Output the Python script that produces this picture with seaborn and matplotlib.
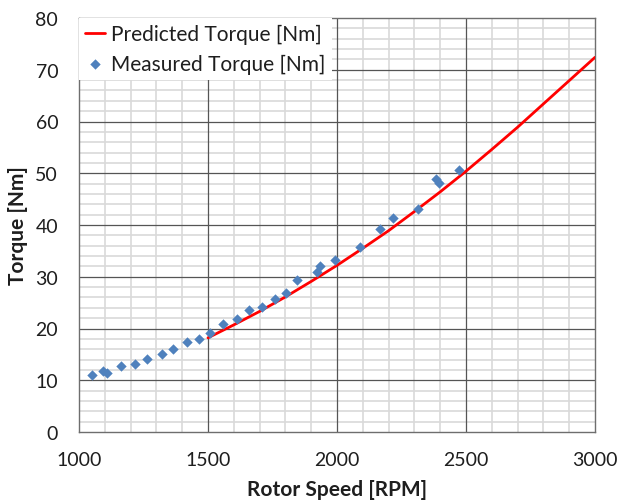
"""Torque vs rotor speed: predicted curve and measured points."""

import matplotlib
matplotlib.use("Agg")
import matplotlib.pyplot as plt
import pandas as pd
import seaborn as sns
from matplotlib.ticker import MultipleLocator

# Predicted torque
PRED_RPM = [1500, 1600, 1700, 1800, 1900, 2000, 2100, 2200, 2300, 2400,
            2500, 2600, 2700, 2800, 2900, 3000]
PRED_NM = [18.2, 20.7, 23.3, 26.1, 29.1, 32.2, 35.5, 38.9, 42.6, 46.4,
           50.4, 54.6, 58.9, 63.4, 67.9, 72.4]

# Measured torque points
MEAS_RPM = [1052, 1094, 1107, 1164, 1217, 1265, 1320, 1366, 1417, 1465,
            1508, 1560, 1614, 1659, 1709, 1758, 1802, 1845, 1924, 1934,
            1992, 2089, 2168, 2218, 2314, 2384, 2397, 2472]
MEAS_NM = [11.1, 11.8, 11.4, 12.8, 13.1, 14.1, 15.1, 16.0, 17.4, 18.0,
           19.1, 20.9, 21.8, 23.6, 24.1, 25.7, 26.9, 29.3, 31.0, 32.1,
           33.2, 35.8, 39.2, 41.4, 43.0, 48.8, 48.1, 50.7]

sns.set_style("white")
plt.rcParams["font.family"] = ["Lato", "DejaVu Sans"]
TXT = "#1e1e1e"
GRID_MAJ = "#555555"

pred = pd.DataFrame({"rpm": PRED_RPM, "nm": PRED_NM})
meas = pd.DataFrame({"rpm": MEAS_RPM, "nm": MEAS_NM})

fig = plt.figure(figsize=(6.19, 5.02), dpi=100)
ax = fig.add_axes([79 / 619, 1 - 433 / 502, 516 / 619, 414 / 502])

sns.lineplot(pred, x="rpm", y="nm", ax=ax, color="#ff0000", lw=2,
             label="Predicted Torque [Nm]", zorder=4)
sns.scatterplot(meas, x="rpm", y="nm", ax=ax, marker="D", s=28, color="#4f81bd",
                linewidth=0, label="Measured Torque [Nm]", zorder=5)

ax.set_xlim(1000, 3000)
ax.set_ylim(0, 80)
ax.xaxis.set_major_locator(MultipleLocator(500))
ax.xaxis.set_minor_locator(MultipleLocator(100))
ax.yaxis.set_major_locator(MultipleLocator(10))
ax.yaxis.set_minor_locator(MultipleLocator(2))
# light minor grid, dark major lines drawn on top of it
ax.grid(which="minor", color="#d9d9d9", lw=1.2, zorder=0)
for xv in ax.get_xticks():
    if 1000 < xv < 3000:
        ax.axvline(xv, color=GRID_MAJ, lw=0.9, zorder=1)
for yv in ax.get_yticks():
    if 0 < yv < 80:
        ax.axhline(yv, color=GRID_MAJ, lw=0.9, zorder=1)
ax.set_axisbelow(True)
for s in ax.spines.values():
    s.set_color("#6e6e6e")
    s.set_linewidth(1.0)

ax.tick_params(which="major", direction="out", length=4.5, width=0.8,
               color="#8c8c8c", labelsize=14, labelcolor=TXT)
ax.tick_params(axis="y", pad=10.5)
ax.tick_params(axis="x", pad=9)
ax.tick_params(which="minor", length=0)

ax.set_xlabel("Rotor Speed [RPM]", fontsize=15, fontweight="bold", color=TXT, labelpad=8)
ax.set_ylabel("Torque [Nm]", fontsize=15, fontweight="bold", color=TXT, labelpad=5)

leg = ax.legend(loc="upper left", bbox_to_anchor=(0, 1), borderaxespad=0,
                fontsize=15, frameon=True, fancybox=False, framealpha=1,
                facecolor="white", edgecolor="none", handlelength=0.95,
                handletextpad=0.3, labelspacing=0.45, borderpad=0.3)
for t in leg.get_texts():
    t.set_color(TXT)

fig.savefig("out.png", dpi=100)
